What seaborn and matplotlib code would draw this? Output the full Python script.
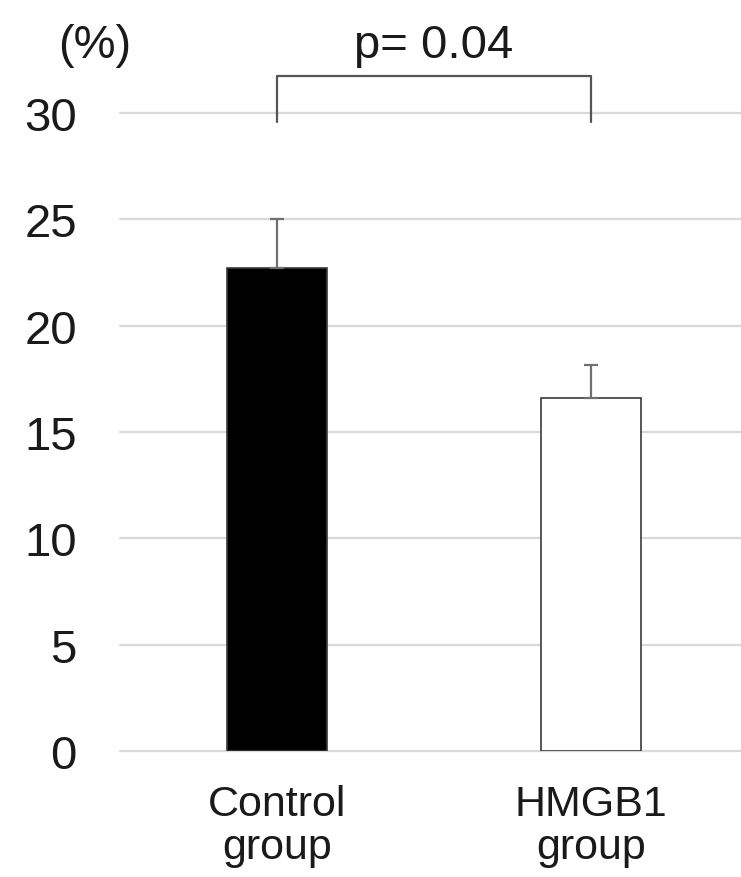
import matplotlib
matplotlib.use("Agg")
import matplotlib.pyplot as plt
import seaborn as sns
import pandas as pd

categories = ["Control\ngroup", "HMGB1\ngroup"]
means = [22.7, 16.6]
sems = [2.3, 1.55]
yticks = [0, 5, 10, 15, 20, 25, 30]
p_label = "p= 0.04"
unit_label = "(%)"

sns.set_theme(style="white")
plt.rcParams["font.family"] = ["Liberation Sans", "DejaVu Sans"]

W, H = 741, 878
fig = plt.figure(figsize=(W / 100, H / 100), dpi=100)
ax = fig.add_axes([120 / W, (H - 752) / H, 628 / W, (752 - 114) / H])

df = pd.DataFrame({"group": categories, "value": means})
sns.barplot(data=df, x="group", y="value", hue="group",
            palette=["black", "white"], width=0.32, errorbar=None,
            edgecolor="#3a3a3a", linewidth=1.2, legend=False, ax=ax, zorder=3)

ax.errorbar(range(len(categories)), means, yerr=[[0] * len(sems), sems],
            fmt="none", ecolor="#707070", elinewidth=1.6, capsize=5,
            capthick=1.6, zorder=4)

ax.set_xlim(-0.5, 1.5)
ax.set_ylim(0, 30)
ax.set_yticks(yticks)
ax.set_yticklabels([str(t) for t in yticks])
ax.yaxis.grid(True, color="#d9d9d9", linewidth=1.6)
for gl in ax.yaxis.get_gridlines():
    gl.set_clip_on(False)
ax.set_axisbelow(True)
for s in ax.spines.values():
    s.set_visible(False)
ax.set_xlabel("")
ax.set_ylabel("")
ax.tick_params(axis="y", length=0, pad=31, labelsize=34, labelcolor="#1a1a1a")
ax.tick_params(axis="x", length=0, pad=24, labelsize=31, labelcolor="#1a1a1a")
for lab in ax.get_xticklabels():
    lab.set_linespacing(1.1)

# significance bracket
ax.plot([0, 0, 1, 1], [29.57, 31.74, 31.74, 29.57], color="#555555",
        linewidth=1.6, clip_on=False, zorder=5)
ax.text(0.5, 33.2, p_label, ha="center", va="center", fontsize=34,
        color="#1a1a1a", clip_on=False)
ax.text(-0.58, 33.2, unit_label, ha="center", va="center", fontsize=34,
        color="#1a1a1a", clip_on=False)

fig.savefig("out.png", dpi=100)
